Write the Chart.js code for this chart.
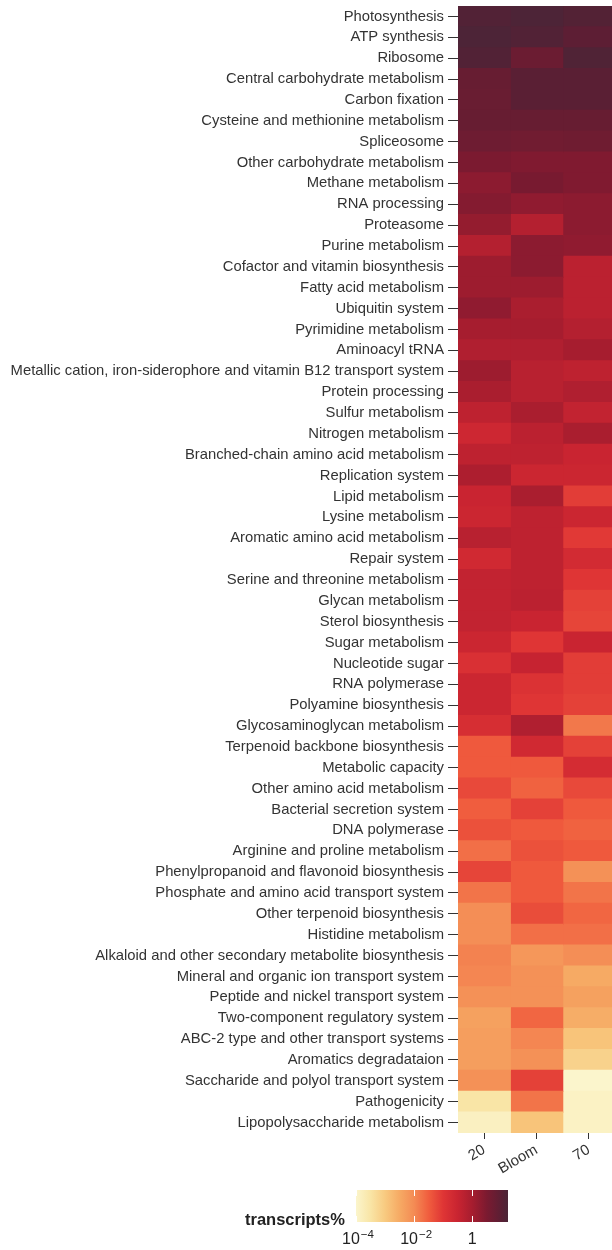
<!DOCTYPE html>
<html><head><meta charset="utf-8">
<script src="https://cdn.jsdelivr.net/npm/chart.js@4/dist/chart.umd.min.js"></script>
<style>
html,body{margin:0;padding:0;background:#fff;width:612px;height:1250px;overflow:hidden;position:relative;}
#main{position:absolute;left:0;top:0;}
#bar{position:absolute;left:0;top:1180px;}
#ttl{position:absolute;left:245px;top:1208px;font:bold 16.5px "Liberation Sans",Arial,sans-serif;color:#222;line-height:22px;}
</style></head><body>
<canvas id="main" width="616" height="1185"></canvas>
<canvas id="bar" width="612" height="70"></canvas>
<div id="ttl">transcripts%</div>
<script>
const pathways = [
  "Photosynthesis","ATP synthesis","Ribosome","Central carbohydrate metabolism","Carbon fixation",
  "Cysteine and methionine metabolism","Spliceosome","Other carbohydrate metabolism","Methane metabolism",
  "RNA processing","Proteasome","Purine metabolism","Cofactor and vitamin biosynthesis","Fatty acid metabolism",
  "Ubiquitin system","Pyrimidine metabolism","Aminoacyl tRNA",
  "Metallic cation, iron-siderophore and vitamin B12 transport system","Protein processing","Sulfur metabolism",
  "Nitrogen metabolism","Branched-chain amino acid metabolism","Replication system","Lipid metabolism",
  "Lysine metabolism","Aromatic amino acid metabolism","Repair system","Serine and threonine metabolism",
  "Glycan metabolism","Sterol biosynthesis","Sugar metabolism","Nucleotide sugar","RNA polymerase",
  "Polyamine biosynthesis","Glycosaminoglycan metabolism","Terpenoid backbone biosynthesis","Metabolic capacity",
  "Other amino acid metabolism","Bacterial secretion system","DNA polymerase","Arginine and proline metabolism",
  "Phenylpropanoid and flavonoid biosynthesis","Phosphate and amino acid transport system",
  "Other terpenoid biosynthesis","Histidine metabolism","Alkaloid and other secondary metabolite biosynthesis",
  "Mineral and organic ion transport system","Peptide and nickel transport system","Two-component regulatory system",
  "ABC-2 type and other transport systems","Aromatics degradataion","Saccharide and polyol transport system",
  "Pathogenicity","Lipopolysaccharide metabolism"
];
const columns = ["20","Bloom","70"];

// transcripts% per pathway and sample
const v20 = [13.2,15.8,13.2,6.3,6.0,6.3,5.0,3.2,2.0,2.5,1.6,0.63,1.26,1.26,1.78,1.0,0.71,1.26,0.89,0.45,
  0.25,0.45,0.79,0.32,0.28,0.56,0.22,0.40,0.40,0.40,0.28,0.14,0.28,0.28,0.16,0.035,0.035,0.056,0.032,0.045,
  0.020,0.063,0.018,0.0089,0.0089,0.0126,0.0112,0.0079,0.0045,0.005,0.005,0.0079,0.00032,0.00014];
const vBloom = [15.8,13.2,5.6,10,10,6.3,4.5,2.8,3.5,1.78,0.63,2.0,2.0,1.26,0.89,1.0,0.71,0.56,0.56,0.89,
  0.5,0.45,0.28,0.89,0.45,0.45,0.45,0.45,0.5,0.32,0.1,0.35,0.126,0.1,0.71,0.22,0.035,0.028,0.071,0.035,
  0.045,0.035,0.035,0.05,0.02,0.0063,0.0079,0.0079,0.025,0.0112,0.0079,0.071,0.018,0.00126];
const v70 = [12.6,8.9,14.1,10,10,6.3,4.8,2.8,2.8,2.0,2.0,1.78,0.5,0.5,0.5,0.63,1.0,0.45,0.71,0.4,
  0.89,0.32,0.28,0.079,0.28,0.089,0.2,0.1,0.071,0.063,0.32,0.079,0.079,0.071,0.016,0.071,0.18,0.056,0.035,0.028,
  0.035,0.0079,0.018,0.025,0.02,0.0089,0.0032,0.0045,0.0028,0.00126,0.0007,0.0001,0.000126,0.000126];

const legendTicks = [1e-4, 1e-2, 1];
const legendTickBase = ["10","10","1"];
const legendTickExp = ["\u22124","\u22122",""];
const scaleMin = 1e-4, scaleMax = 17;

// colour map: [log10 value, colour]
const stops = [[-4,'#fbf5cc'],[-3.5,'#f9e5a6'],[-3,'#f8ca80'],[-2.5,'#f6aa64'],[-2,'#f48b54'],
  [-1.5,'#f05d3e'],[-1,'#df3535'],[-0.5,'#c92431'],[0,'#a61d2f'],[0.5,'#7b1a30'],[1,'#5a1f34'],[1.23,'#4b2537']];
function hex2rgb(h){return [parseInt(h.slice(1,3),16),parseInt(h.slice(3,5),16),parseInt(h.slice(5,7),16)];}
function colorFor(v){
  const l = Math.log10(v);
  if (l <= stops[0][0]) return stops[0][1];
  for (let i=1;i<stops.length;i++){
    if (l <= stops[i][0]){
      const t=(l-stops[i-1][0])/(stops[i][0]-stops[i-1][0]);
      const a=hex2rgb(stops[i-1][1]), b=hex2rgb(stops[i][1]);
      return 'rgb('+a.map((x,k)=>Math.round(x+(b[k]-x)*t)).join(',')+')';
    }
  }
  return stops[stops.length-1][1];
}

const FONT = '"Liberation Sans", Arial, sans-serif';

new Chart(document.getElementById('main'), {
  type: 'bar',
  data: {
    labels: pathways,
    datasets: [v20, vBloom, v70].map((vals, c) => ({
      label: columns[c],
      data: vals.map(() => [c, c + 1]),
      backgroundColor: vals.map(colorFor),
      borderWidth: 0,
      inflateAmount: 0.6,
      barPercentage: 1,
      categoryPercentage: 1,
      grouped: false
    }))
  },
  options: {
    indexAxis: 'y',
    responsive: false,
    animation: false,
    devicePixelRatio: 1,
    layout: { padding: { top: 6, right: 1, left: 0, bottom: 0 } },
    plugins: { legend: { display: false }, tooltip: { enabled: false } },
    scales: {
      y: {
        type: 'category',
        grid: { offset: false, drawOnChartArea: false, drawTicks: true, tickLength: 10, color: '#333', lineWidth: 1 },
        border: { display: false },
        ticks: { padding: 4, color: '#333', autoSkip: false, font: { family: FONT, size: 14.8 } },
        afterFit: (s) => { s.width = 458; s.paddingTop = 0; s.paddingBottom = 0; }
      },
      x: {
        type: 'linear', min: 0, max: columns.length,
        grid: { drawOnChartArea: false, drawTicks: true, tickLength: 6, color: '#333', lineWidth: 1 },
        border: { display: false },
        afterBuildTicks: (s) => { s.ticks = columns.map((_, i) => ({ value: i + 0.5 })); },
        ticks: { autoSkip: false, maxRotation: 30, minRotation: 30, padding: 2, color: '#333',
          font: { family: FONT, size: 15 }, callback: (v, i) => columns[i] },
        afterFit: (s) => { s.height = 52; s.paddingLeft = 0; s.paddingRight = 0; }
      }
    }
  }
});

const colorbarDecor = {
  id: 'colorbarDecor',
  afterDatasetsDraw(ch) {
    const a = ch.chartArea, x = ch.scales.x, ctx = ch.ctx;
    ctx.save();
    ctx.strokeStyle = '#ffffff';
    ctx.lineWidth = 1;
    legendTicks.forEach(v => {
      const px = Math.round(x.getPixelForValue(v)) + 0.5;
      ctx.beginPath();
      ctx.moveTo(px, a.top); ctx.lineTo(px, a.top + 6);
      ctx.moveTo(px, a.bottom - 6); ctx.lineTo(px, a.bottom);
      ctx.stroke();
    });
    // tick labels with superscript exponents
    ctx.fillStyle = '#222';
    ctx.textBaseline = 'alphabetic';
    ctx.textAlign = 'left';
    const baseY = a.bottom + 22;
    legendTicks.forEach((v, i) => {
      const px = x.getPixelForValue(v);
      ctx.font = '16px ' + FONT;
      const wb = ctx.measureText(legendTickBase[i]).width;
      ctx.font = '11.5px ' + FONT;
      const we = legendTickExp[i] ? ctx.measureText(legendTickExp[i]).width + 1 : 0;
      const start = px - (wb + we) / 2 + (legendTickExp[i] ? 2 : 0);
      ctx.font = '16px ' + FONT;
      ctx.fillText(legendTickBase[i], start, baseY);
      if (legendTickExp[i]) {
        ctx.font = '11.5px ' + FONT;
        ctx.fillText(legendTickExp[i], start + wb + 1, baseY - 6);
      }
    });
    ctx.restore();
  }
};

new Chart(document.getElementById('bar'), {
  type: 'bar',
  data: {
    labels: ['transcripts%'],
    datasets: [{
      data: [[scaleMin, scaleMax]],
      backgroundColor: (c) => {
        const ch = c.chart, a = ch.chartArea;
        if (!a) return '#f05d3e';
        const g = ch.ctx.createLinearGradient(a.left, 0, a.right, 0);
        const lo = Math.log10(scaleMin), hi = Math.log10(scaleMax);
        stops.forEach(([l, col]) => {
          g.addColorStop(Math.min(1, Math.max(0, (l - lo) / (hi - lo))), col);
        });
        return g;
      },
      borderWidth: 0, barPercentage: 1, categoryPercentage: 1
    }]
  },
  options: {
    indexAxis: 'y',
    responsive: false,
    animation: false,
    devicePixelRatio: 1,
    layout: { padding: { left: 356, right: 104, top: 10, bottom: 0 } },
    plugins: { legend: { display: false }, tooltip: { enabled: false } },
    scales: {
      y: { display: false },
      x: {
        type: 'logarithmic', min: scaleMin, max: scaleMax,
        grid: { display: false, drawTicks: false },
        border: { display: false },
        afterBuildTicks: (s) => { s.ticks = legendTicks.map(v => ({ value: v })); },
        ticks: { display: false },
        afterFit: (s) => { s.height = 28; }
      }
    }
  },
  plugins: [colorbarDecor]
});
</script>
</body></html>
